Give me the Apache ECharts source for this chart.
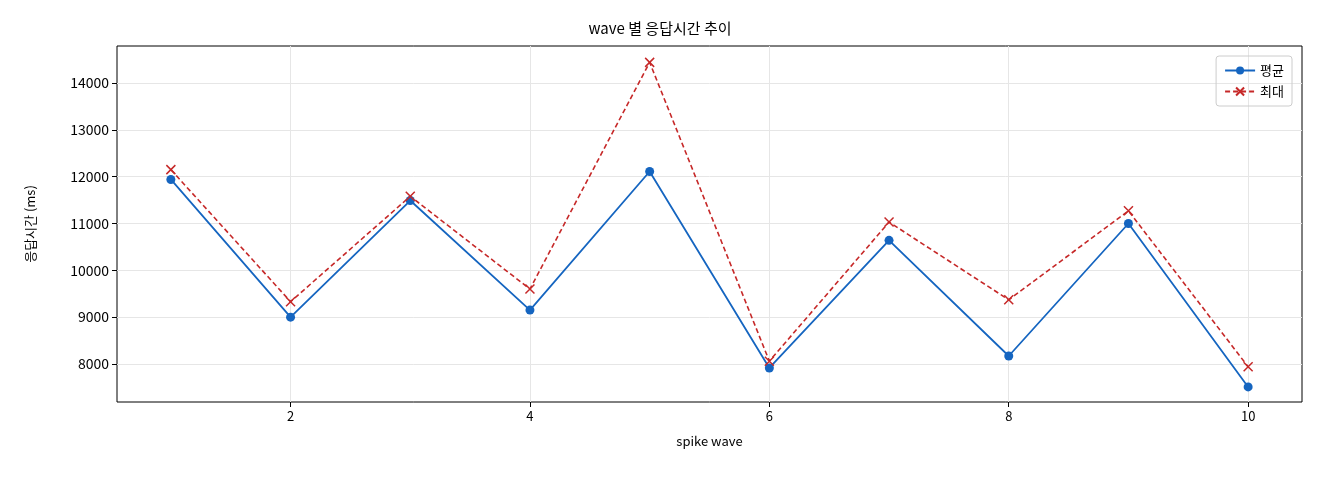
<!DOCTYPE html>
<html><head><meta charset="utf-8">
<script src="https://cdn.jsdelivr.net/npm/echarts@6/dist/echarts.min.js"></script>
<style>html,body{margin:0;padding:0;background:#fff}#c{width:1320px;height:480px}</style>
</head><body><div id="c"></div>
<script>
const waves = [1,2,3,4,5,6,7,8,9,10];
const avgValues = [11940,9000,11490,9150,12110,7915,10640,8170,11000,7510];
const maxValues = [12150,9330,11580,9600,14440,8060,11030,9370,11270,7940];
const xTicks = [2,4,6,8,10];
const yTicks = [8000,9000,10000,11000,12000,13000,14000];
const F = '"Noto Sans CJK KR","Noto Sans",sans-serif';
const chart = echarts.init(document.getElementById('c'));
chart.setOption({
  animation:false,
  textStyle:{fontFamily:F},
  title:{text:'wave 별 응답시간 추이',left:'center',top:16,textStyle:{fontFamily:F,fontSize:15,fontWeight:'normal',color:'#000'}},
  grid:{left:117,right:18,top:46,bottom:78,show:true,borderColor:'#000',borderWidth:1},
  legend:{right:28,top:56,orient:'vertical',itemWidth:30,itemHeight:10,itemGap:8,
    borderColor:'#ccc',borderWidth:1,borderRadius:3,padding:[8,8,8,8],
    textStyle:{fontFamily:F,fontSize:13,color:'#000'},
    data:['평균','최대']},
  xAxis:{type:'value',min:0.55,max:10.45,interval:2,
    name:'spike wave',nameLocation:'middle',nameGap:33,nameTextStyle:{fontFamily:F,fontSize:13,color:'#000'},
    axisLine:{show:false},
    axisTick:{show:true,customValues:xTicks,lineStyle:{color:'#000'}},
    axisLabel:{customValues:xTicks,color:'#000',fontSize:13,fontFamily:F,formatter:v=>String(v)},
    splitLine:{show:true,lineStyle:{color:'#e6e6e6'}}},
  yAxis:{type:'value',min:7188,max:14790,interval:1000,
    name:'응답시간 (ms)',nameLocation:'middle',nameGap:80,nameTextStyle:{fontFamily:F,fontSize:13,color:'#000'},
    axisLine:{show:false},
    axisTick:{show:true,customValues:yTicks,lineStyle:{color:'#000'}},
    axisLabel:{customValues:yTicks,color:'#000',fontSize:14,fontFamily:F,formatter:v=>String(v)},
    splitLine:{show:true,lineStyle:{color:'#e6e6e6'}}},
  series:[
    {name:'평균',type:'line',data:waves.map((w,i)=>[w,avgValues[i]]),
     symbol:'circle',symbolSize:9,color:'#1565c0',
     lineStyle:{width:1.8,color:'#1565c0'},itemStyle:{color:'#1565c0'}},
    {name:'최대',type:'line',data:waves.map((w,i)=>[w,maxValues[i]]),
     symbol:'path://M0,0L10,10M10,0L0,10',symbolSize:9,color:'#c62828',
     lineStyle:{width:1.6,type:[5,3],color:'#c62828'},
     itemStyle:{color:'none',borderColor:'#c62828',borderWidth:1.5}}
  ]
});
</script></body></html>
